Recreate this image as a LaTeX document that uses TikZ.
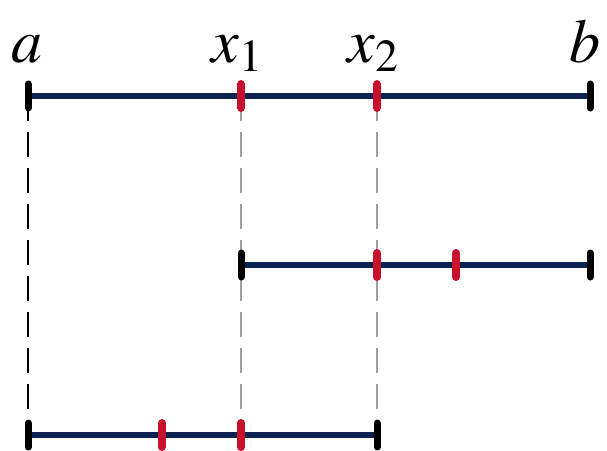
\documentclass[tikz,border=0pt]{standalone}
\usepackage{mathptmx}
\definecolor{segblue}{RGB}{12,35,82}
\definecolor{markred}{RGB}{200,18,44}
\begin{document}
\begin{tikzpicture}[x=1pt, y=-1pt,
    seg/.style={line width=6pt, segblue},
    endtick/.style={line width=7pt, line cap=round, black},
    redtick/.style={line width=8pt, line cap=round, markred},
    guide/.style={dash pattern=on 25pt off 11pt},
    lbl/.style={anchor=base, inner sep=0pt, font=\fontsize{62}{62}\selectfont}]

  \useasboundingbox (0,0) rectangle (607,450);

  % points on the three intervals
  \coordinate (a)  at (28,96);
  \coordinate (x1) at (241,96);
  \coordinate (x2) at (377,96);
  \coordinate (b)  at (590,96);
  \coordinate (m1) at (241,265);
  \coordinate (m2) at (377,265);
  \coordinate (m3) at (456,265);
  \coordinate (m4) at (590,265);
  \coordinate (l1) at (28,435);
  \coordinate (l2) at (162,435);
  \coordinate (l3) at (241,435);
  \coordinate (l4) at (377,435);

  % labels
  \node[lbl] (la)  at (27,62)  {$a$};
  \node[lbl] (lx1) at (237,62) {$x_1$};
  \node[lbl] (lx2) at (373,62) {$x_2$};
  \node[lbl] (lb)  at (585,62) {$b$};

  % dashed guides
  \draw[guide, line width=1.6pt, black]   (a)  -- (l1);
  \draw[guide, line width=2.6pt, gray!75] (x1) -- (l3);
  \draw[guide, line width=2.6pt, gray!75] (x2) -- (l4);

  % intervals
  \draw[seg] (a)  -- (b);
  \draw[seg] (m1) -- (m4);
  \draw[seg] (l1) -- (l4);

  % end ticks
  \foreach \p in {a,b,m1,m4,l1,l4}
    \draw[endtick] ([yshift=-12pt]\p) -- ([yshift=12pt]\p);
  % red marks
  \foreach \p in {x1,x2,m2,m3,l2,l3}
    \draw[redtick] ([yshift=-12pt]\p) -- ([yshift=12pt]\p);

\end{tikzpicture}
\end{document}
